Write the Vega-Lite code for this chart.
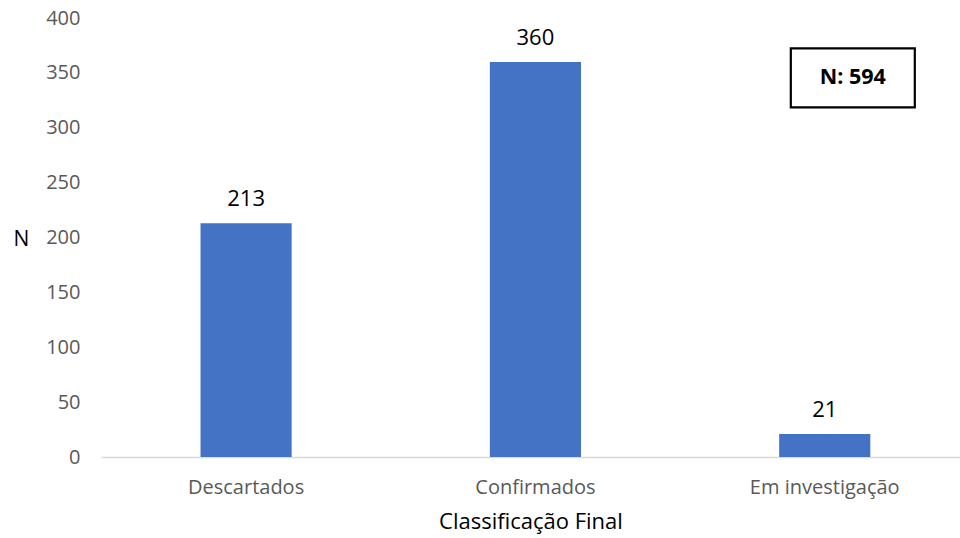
{
  "$schema": "https://vega.github.io/schema/vega-lite/v6.json",
  "width": 859,
  "height": 439,
  "autosize": {"type": "none"},
  "padding": {"left": 101, "top": 18, "right": 0, "bottom": 81},
  "background": "white",
  "config": {"view": {"stroke": null}, "font": "Open Sans"},
  "datasets": {
    "bars": [
      {"categoria": "Descartados", "n": 213},
      {"categoria": "Confirmados", "n": 360},
      {"categoria": "Em investigação", "n": 21}
    ],
    "box": [
      {"categoria": "Em investigação", "n": 345.5, "label": "N: 594"}
    ]
  },
  "layer": [
    {
      "data": {"name": "bars"},
      "mark": {"type": "bar", "color": "#4472C4"},
      "encoding": {
        "x": {
          "field": "categoria", "type": "nominal",
          "sort": ["Descartados", "Confirmados", "Em investigação"],
          "scale": {"domain": ["Descartados", "Confirmados", "Em investigação"], "paddingInner": 0.685, "paddingOuter": 0.327, "align": 0.526},
          "axis": {
            "title": "Classificação Final", "titleFontSize": 22, "titleFontWeight": "normal", "titleColor": "#000000", "titlePadding": 14,
            "labelAngle": 0, "labelFontSize": 20, "labelColor": "#595959", "labelPadding": 20,
            "ticks": false, "domainColor": "#D9D9D9", "domainWidth": 1.5
          }
        },
        "y": {
          "field": "n", "type": "quantitative",
          "scale": {"domain": [0, 400], "nice": false},
          "axis": {
            "title": "N", "titleAngle": 0, "titleFontSize": 21, "titleFontWeight": "normal", "titleColor": "#000000",
            "titleX": -80, "titleY": 221.5, "titleAlign": "center", "titleBaseline": "middle",
            "values": [0, 50, 100, 150, 200, 250, 300, 350, 400],
            "labelFontSize": 20, "labelColor": "#595959", "labelPadding": 21,
            "ticks": false, "domain": false, "grid": false
          }
        }
      }
    },
    {
      "data": {"name": "bars"},
      "mark": {"type": "text", "baseline": "alphabetic", "dy": -17, "fontSize": 22, "color": "#000000"},
      "encoding": {
        "x": {"field": "categoria", "type": "nominal", "sort": ["Descartados", "Confirmados", "Em investigação"]},
        "y": {"field": "n", "type": "quantitative"},
        "text": {"field": "n", "type": "quantitative"}
      }
    },
    {
      "data": {"name": "box"},
      "mark": {"type": "point", "shape": "M-1,-0.476L1,-0.476L1,0.476L-1,0.476Z", "size": 15376, "filled": true, "fill": "white", "stroke": "black", "strokeWidth": 2.2, "opacity": 1},
      "encoding": {
        "x": {"field": "categoria", "type": "nominal", "sort": ["Descartados", "Confirmados", "Em investigação"], "bandPosition": 0.808},
        "y": {"field": "n", "type": "quantitative"}
      }
    },
    {
      "data": {"name": "box"},
      "mark": {"type": "text", "fontSize": 21.5, "fontWeight": "bold", "color": "#000000", "baseline": "middle"},
      "encoding": {
        "x": {"field": "categoria", "type": "nominal", "sort": ["Descartados", "Confirmados", "Em investigação"], "bandPosition": 0.808},
        "y": {"field": "n", "type": "quantitative"},
        "text": {"field": "label"}
      }
    }
  ]
}
